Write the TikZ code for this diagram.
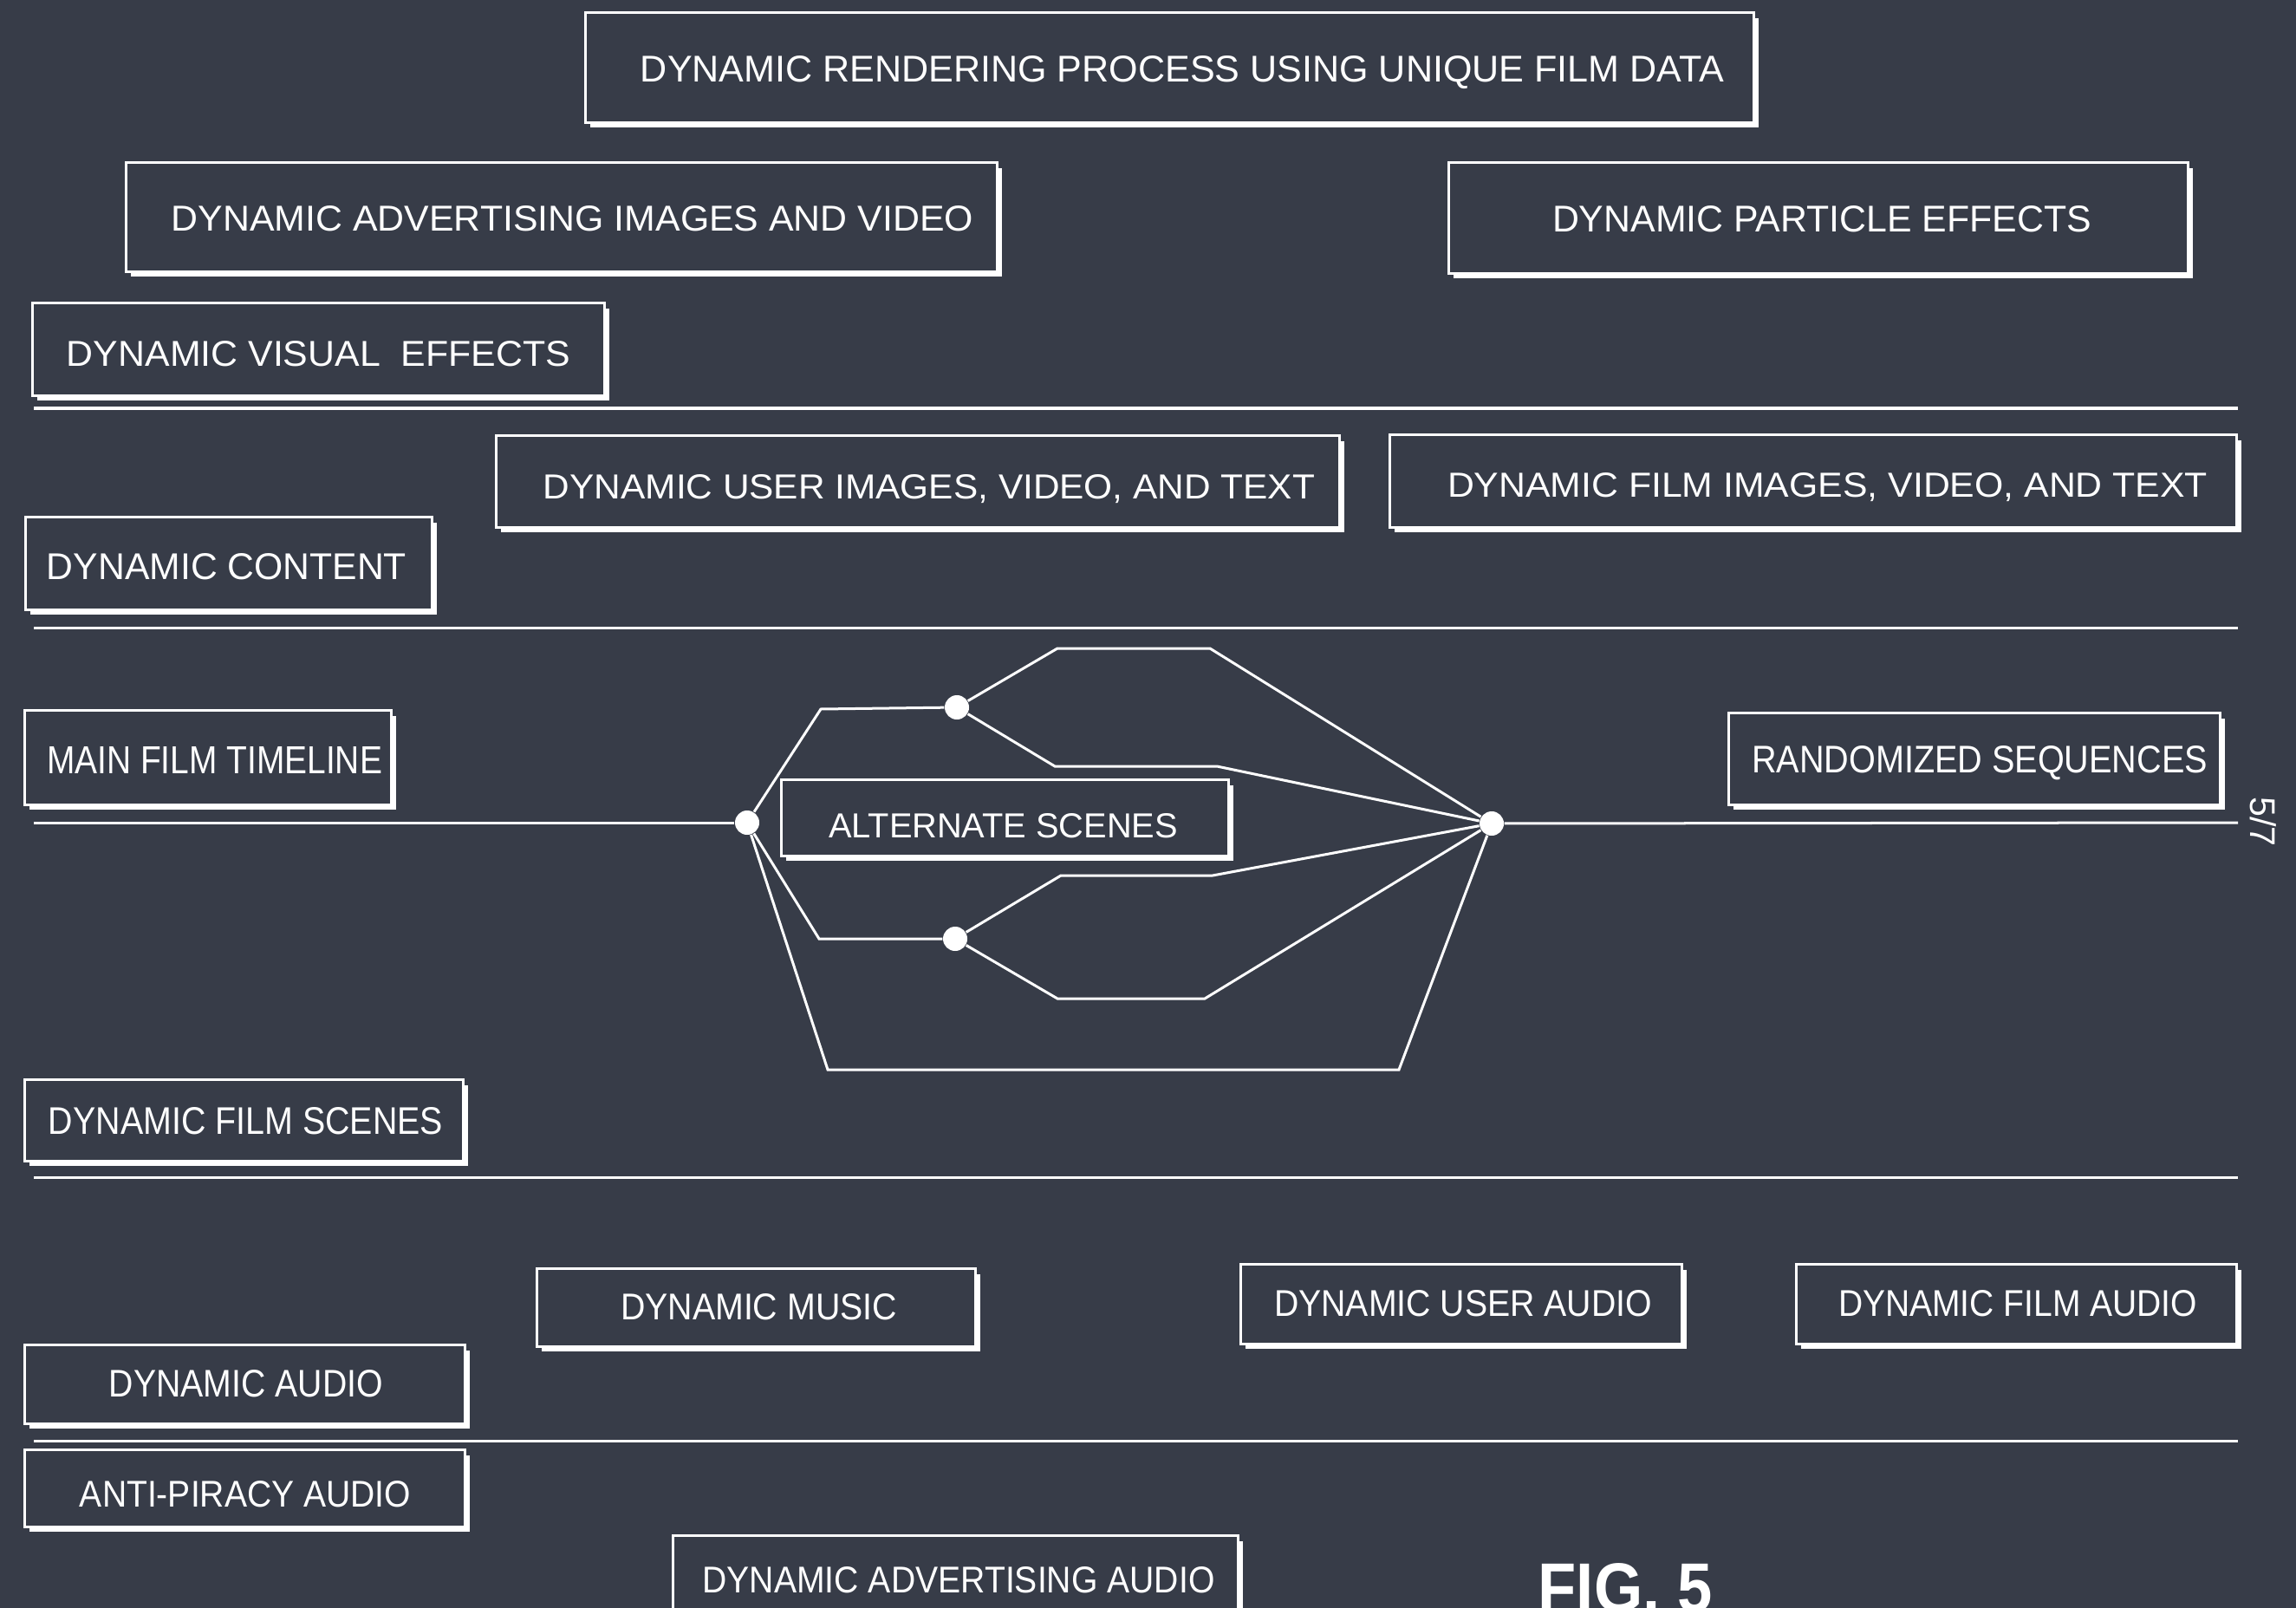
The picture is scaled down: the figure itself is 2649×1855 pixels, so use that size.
\documentclass[tikz,border=0pt]{standalone}
\usepackage{fontspec}
\setmainfont{Liberation Sans}
\usepackage{graphicx}
\usetikzlibrary{shadows}
\definecolor{bg}{RGB}{55,60,72}
\newdimen\uu \uu=0.01cm
\newlength\lblr \newlength\lbls
% #1 dx (px), #2 dy down (px), #3 text width (px), #4 cap height (px), #5 text
\newcommand\lbl[5]{%
  \pgfmathsetlength\lblr{-0.5*(#4)*0.01cm-(#2)*0.01cm}%
  \pgfmathsetlength\lbls{2*(#1)*0.01cm}%
  \raisebox{\lblr}[0pt][0pt]{\makebox[0pt]{\hspace*{\lbls}\resizebox{#3\uu}{#4\uu}{#5}}}}
\tikzset{
  box/.style={draw=white, line width=0.03cm, fill=bg, inner sep=0pt, text=white,
    drop shadow={shadow xshift=0.055cm, shadow yshift=-0.06cm, fill=white, opacity=1}},
  ln/.style={draw=white, line width=0.03cm, line join=miter},
  dot/.style={circle, fill=white, inner sep=0pt, minimum size=0.28cm},
}
\begin{document}
\begin{tikzpicture}[x=0.01cm, y=-0.01cm]
\useasboundingbox (0,0) rectangle (2649,1855);
\fill[bg] (0,0) rectangle (2649,1855);

% ---- boxes ----
\node[box, minimum width=13.47cm, minimum height=1.26cm] (render) at (1349.5,78)
  {\lbl{14.5}{2}{1250}{30}{DYNAMIC RENDERING PROCESS USING UNIQUE FILM DATA}};
\node[box, minimum width=10.04cm, minimum height=1.25cm] (advimg) at (648,250.5)
  {\lbl{12.5}{2}{925}{29}{DYNAMIC ADVERTISING IMAGES AND VIDEO}};
\node[box, minimum width=8.52cm, minimum height=1.27cm] (particle) at (2098,251.5)
  {\lbl{4}{1.5}{622}{30}{DYNAMIC PARTICLE EFFECTS}};
\node[box, minimum width=6.59cm, minimum height=1.06cm] (visual) at (367.5,403)
  {\lbl{0}{5.5}{581}{29}{DYNAMIC VISUAL\ \ EFFECTS}};
\node[box, minimum width=9.72cm, minimum height=1.05cm] (userimg) at (1059,555.5)
  {\lbl{13}{5.5}{890}{28}{DYNAMIC USER IMAGES, VIDEO, AND TEXT}};
\node[box, minimum width=9.76cm, minimum height=1.06cm] (filmimg) at (2092,555)
  {\lbl{16.5}{4}{877}{28}{DYNAMIC FILM IMAGES, VIDEO, AND TEXT}};
\node[box, minimum width=4.68cm, minimum height=1.06cm] (content) at (264,650)
  {\lbl{-2.5}{3}{415}{30}{DYNAMIC CONTENT}};
\node[box, minimum width=4.22cm, minimum height=1.08cm] (mainfilm) at (240,874)
  {\lbl{7.5}{2.5}{387}{31}{MAIN FILM TIMELINE}};
\node[box, minimum width=5.66cm, minimum height=1.05cm] (random) at (2278,875.5)
  {\lbl{6}{0}{526}{31}{RANDOMIZED SEQUENCES}};
\node[box, minimum width=5.15cm, minimum height=0.87cm] (alt) at (1159.5,943.5)
  {\lbl{-2}{8.5}{403}{28}{ALTERNATE SCENES}};
\node[box, minimum width=5.05cm, minimum height=0.93cm] (filmscenes) at (281.5,1292.5)
  {\lbl{2}{0}{455}{31}{DYNAMIC FILM SCENES}};
\node[box, minimum width=5.05cm, minimum height=0.89cm] (music) at (872.5,1508.5)
  {\lbl{3}{-1.5}{319}{30}{DYNAMIC MUSIC}};
\node[box, minimum width=5.08cm, minimum height=0.91cm] (useraudio) at (1686,1504.5)
  {\lbl{2}{-1.5}{436}{30}{DYNAMIC USER AUDIO}};
\node[box, minimum width=5.07cm, minimum height=0.91cm] (filmaudio) at (2326.5,1504.5)
  {\lbl{1.5}{-1.5}{414}{30}{DYNAMIC FILM AUDIO}};
\node[box, minimum width=5.07cm, minimum height=0.90cm] (dynaudio) at (282.5,1597)
  {\lbl{1.5}{-1.5}{316}{31}{DYNAMIC AUDIO}};
\node[box, minimum width=5.07cm, minimum height=0.88cm] (antipiracy) at (282.5,1717)
  {\lbl{0.5}{6}{382}{30}{ANTI-PIRACY AUDIO}};
\node[box, minimum width=6.51cm, minimum height=0.98cm] (advaudio) at (1102.5,1821)
  {\lbl{3.5}{1}{591}{30}{DYNAMIC ADVERTISING AUDIO}};

% ---- separators ----
\coordinate (s1a) at (39,471);  \coordinate (s1b) at (2582,471);
\coordinate (s2a) at (39,724);  \coordinate (s2b) at (2582,724);
\coordinate (s3a) at (39,1358); \coordinate (s3b) at (2582,1358);
\coordinate (s4a) at (39,1662); \coordinate (s4b) at (2582,1662);
\draw[ln] (s1a) -- (s1b);
\draw[ln] (s2a) -- (s2b);
\draw[ln] (s3a) -- (s3b);
\draw[ln] (s4a) -- (s4b);

% ---- timeline graph ----
\node[dot] (L) at (862,949) {};
\node[dot] (R) at (1721,950) {};
\node[dot] (U) at (1104,816) {};
\node[dot] (D) at (1102,1083) {};
\coordinate (tl) at (39,949);
\coordinate (tr) at (2582,949);
\draw[ln] (tl) -- (L);
\draw[ln] (R) -- (tr);
\draw[ln] (L) -- (947,818) -- (U);
\draw[ln] (U) -- (1220,748) -- (1396,748) -- (R);
\draw[ln] (U) -- (1217,884) -- (1404,884) -- (R);
\draw[ln] (L) -- (945,1083) -- (D);
\draw[ln] (D) -- (1224,1010) -- (1399,1010) -- (R);
\draw[ln] (D) -- (1220,1152) -- (1390,1152) -- (R);
\draw[ln] (L) -- (955,1234) -- (1614,1234) -- (R);

% ---- page number and figure label ----
\node[rotate=-90, inner sep=0pt, text=white, font=\fontsize{11.7pt}{14pt}\selectfont] (pg) at (2611,948) {5/7};
\node[anchor=north west, inner sep=0pt, text=white] (fig) at (1774,1803)
  {\resizebox{201\uu}{56\uu}{\bfseries FIG. 5}};
\end{tikzpicture}
\end{document}
